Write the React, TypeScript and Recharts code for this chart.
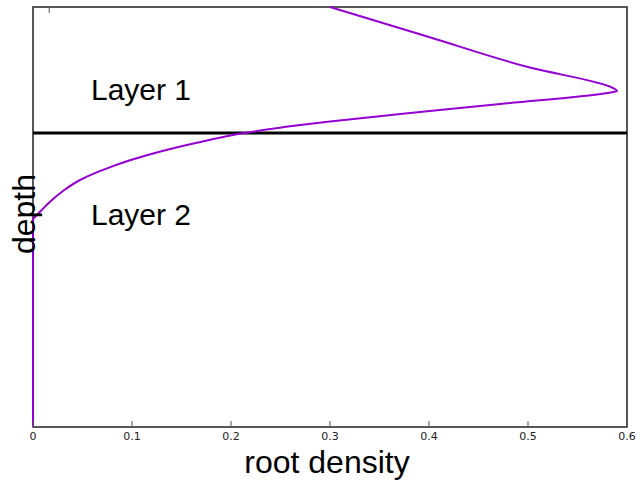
import React from "react";
import {
  LineChart,
  Line,
  XAxis,
  YAxis,
  ReferenceLine,
  ReferenceArea,
  ReferenceDot,
} from "recharts";

// root density profile, depth 0 = surface (top)
const depths = [
  0, 0.0714, 0.143, 0.193, 0.2, 0.2024, 0.231, 0.2548, 0.2726, 0.281, 0.2995,
  0.3233, 0.3424, 0.365, 0.3829, 0.3938, 0.4119, 0.4374, 0.4636, 0.4874,
  0.5048,
];
const densities = [
  0.3, 0.4, 0.5, 0.586, 0.59, 0.586, 0.472, 0.371, 0.3, 0.27, 0.215, 0.1654,
  0.1316, 0.098, 0.0761, 0.0643, 0.0475, 0.0306, 0.0172, 0.0071, 0,
];
// below the root zone the density stays at zero down to the bottom
const tailDepths = [0.5048, 1.0];
const tailDensities = [0, 0];

const xTicks = [0, 0.1, 0.2, 0.3, 0.4, 0.5, 0.6];
const layerBoundary = 0.3;
const layerLabels = [
  { name: "Layer 1", x: 0.0535, depth: 0.196 },
  { name: "Layer 2", x: 0.0535, depth: 0.493 },
];

const data = [
  ...depths.map((d, i) => ({ density: densities[i], curve: d })),
  ...tailDepths.map((d, i) => ({ density: tailDensities[i], tail: d })),
];

const FONT = "'Liberation Sans', Arial, sans-serif";
const TICK_FONT = "'DejaVu Sans', sans-serif";

// gnuplot style: tick marks point into the plot, label below
const BottomTick = (props: any) => {
  const { x, y, payload } = props;
  return (
    <g>
      <line x1={x} y1={y} x2={x} y2={y - 6} stroke="#555" strokeWidth={1} />
      <text
        x={x}
        y={y + 13}
        textAnchor="middle"
        fontSize={11}
        fontFamily={TICK_FONT}
        fill="#222"
      >
        {String(payload.value)}
      </text>
    </g>
  );
};

const TopTick = (props: any) => {
  const { x, y } = props;
  return <line x1={x} y1={y} x2={x} y2={y + 6} stroke="#555" strokeWidth={1} />;
};

const XLabel = (props: any) => {
  const { viewBox } = props;
  const cx = viewBox.x + viewBox.width / 2 - 3;
  return (
    <text
      x={cx}
      y={viewBox.y + 46}
      textAnchor="middle"
      fontSize={32}
      fontFamily={FONT}
      fill="#000"
    >
      root density
    </text>
  );
};

const YLabel = (props: any) => {
  const { viewBox } = props;
  const bx = 35;
  const cy = viewBox.y + 207;
  return (
    <text
      x={bx}
      y={cy}
      transform={`rotate(-90, ${bx}, ${cy})`}
      textAnchor="middle"
      fontSize={32}
      fontFamily={FONT}
      fill="#000"
    >
      depth
    </text>
  );
};

export default function App() {
  return (
    <div style={{ position: "absolute", left: 0, top: 0, background: "#fff" }}>
      <LineChart
        width={642}
        height={481}
        data={data}
        margin={{ top: 0, right: 15, bottom: 0, left: 0 }}
      >
        <XAxis
          xAxisId="b"
          type="number"
          dataKey="density"
          domain={[0, 0.6]}
          ticks={xTicks}
          axisLine={false}
          tickLine={false}
          tickSize={0}
          tickMargin={0}
          tick={<BottomTick />}
          height={54}
          label={<XLabel />}
        />
        <XAxis
          xAxisId="t"
          orientation="top"
          type="number"
          domain={[0, 0.6]}
          ticks={xTicks}
          axisLine={false}
          tickLine={false}
          tickSize={0}
          tickMargin={0}
          tick={<TopTick />}
          height={7}
        />
        <YAxis
          type="number"
          domain={[0, 1]}
          reversed
          width={33}
          axisLine={false}
          tickLine={false}
          tick={false}
          label={<YLabel />}
        />
        <ReferenceArea
          xAxisId="b"
          x1={0}
          x2={0.6}
          y1={0}
          y2={1}
          fill="none"
          stroke="#222"
          strokeWidth={1.5}
          ifOverflow="visible"
        />
        <ReferenceLine
          xAxisId="b"
          y={layerBoundary}
          stroke="#000"
          strokeWidth={3}
        />
        {layerLabels.map((l) => (
          <ReferenceDot
            key={l.name}
            xAxisId="b"
            x={l.x}
            y={l.depth}
            r={0}
            stroke="none"
            fill="none"
            label={{
              value: l.name,
              position: "right",
              fontSize: 30,
              fontFamily: FONT,
              fill: "#000",
            }}
          />
        ))}
        <Line
          xAxisId="b"
          type="monotoneY"
          dataKey="curve"
          stroke="#9400d3"
          strokeWidth={2}
          dot={false}
          isAnimationActive={false}
        />
        <Line
          xAxisId="b"
          type="linear"
          dataKey="tail"
          stroke="#9400d3"
          strokeWidth={2}
          dot={false}
          isAnimationActive={false}
        />
      </LineChart>
    </div>
  );
}
